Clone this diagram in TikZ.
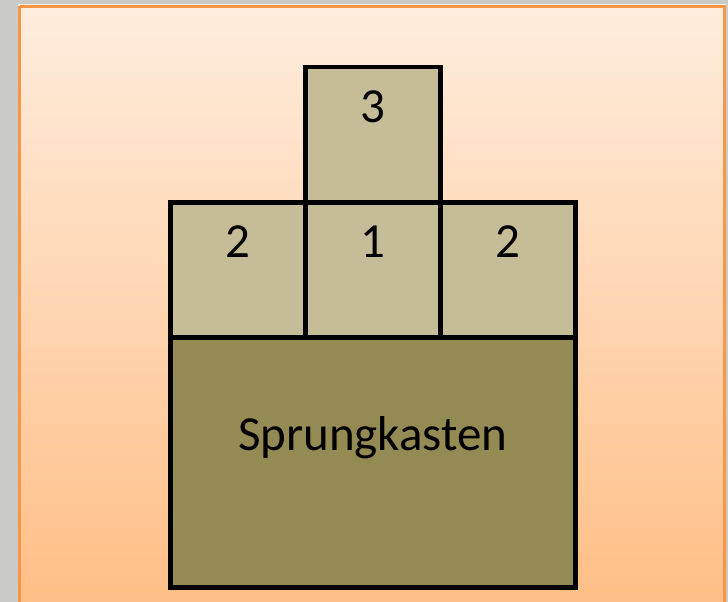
\documentclass[tikz,border=0pt]{standalone}
\usepackage{fontspec}
\setmainfont{Carlito}
\definecolor{marble}{HTML}{CACAC6}
\definecolor{frameor}{HTML}{F79646}
\definecolor{paneltop}{HTML}{FFEDDD}
\definecolor{panelbot}{HTML}{FFBE85}
\definecolor{lighttan}{HTML}{C4BD97}
\definecolor{darkolive}{HTML}{948A54}
\begin{document}
\begin{tikzpicture}[x=1pt,y=-1pt,
  blk/.style={draw=black,line width=4.5pt,fill=lighttan,minimum width=135pt,minimum height=135pt,inner sep=0pt,anchor=north west},
  base/.style={draw=black,line width=4.5pt,fill=darkolive,minimum width=405pt,minimum height=250pt,inner sep=0pt,anchor=north west},
  lbl/.style={anchor=base,font=\fontsize{49}{58}\selectfont,inner sep=0pt}]
\useasboundingbox (0,0) rectangle (728,602);
\fill[marble] (0,0) rectangle (728,602);
\shade[top color=paneltop,bottom color=panelbot] (18,5) rectangle (726,612);
\draw[frameor,line width=3pt] (19.5,6.5) -- (724.5,6.5) -- (724.5,612) (19.5,6.5) -- (19.5,612);
\node[base] (kasten) at (168,335) {};
\node[blk] (left) at (168,200) {};
\node[blk] (mid) at (303,200) {};
\node[blk] (right) at (438,200) {};
\node[blk] (top) at (303,65) {};
\node[lbl] (tkasten) at ([yshift=-115pt]kasten.north) {Sprungkasten};
\node[lbl] (tleft) at ([yshift=-57pt]left.north) {2};
\node[lbl] (tmid) at ([yshift=-57pt]mid.north) {1};
\node[lbl] (tright) at ([yshift=-57pt]right.north) {2};
\node[lbl] (ttop) at ([yshift=-57pt]top.north) {3};
\end{tikzpicture}
\end{document}
